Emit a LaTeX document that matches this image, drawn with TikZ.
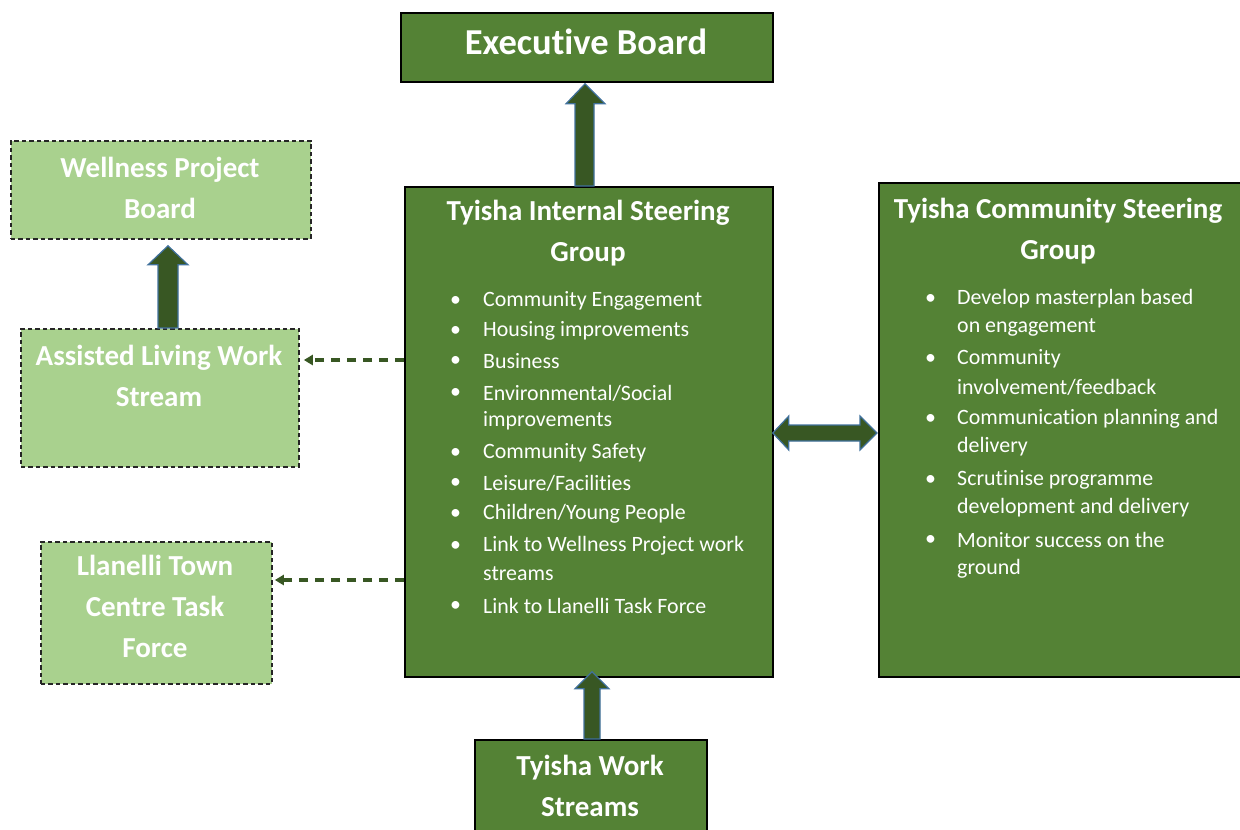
\documentclass[tikz,border=0pt]{standalone}
\usepackage{fontspec}
\setmainfont{Carlito}[RawFeature={-liga;-clig;-calt;-dlig}]
\usetikzlibrary{calc,arrows.meta}
\definecolor{dk}{HTML}{548235}
\definecolor{lt}{HTML}{A9D18E}
\definecolor{ar}{HTML}{385723}
\definecolor{ab}{HTML}{41719C}
\newcommand\nl{\kern0pt }
\begin{document}
\begin{tikzpicture}[x=1pt,y=-1pt,
  darkbox/.style={draw=black,line width=1.8pt,fill=dk,anchor=north west,inner sep=0pt},
  lightbox/.style={draw=black!85,line width=1.8pt,dash pattern=on 4.5pt off 3pt,fill=lt,anchor=north west,inner sep=0pt},
  ttl/.style={text=white,font=\bfseries\fontsize{29}{41}\selectfont,align=center,inner sep=0pt},
  bigttl/.style={text=white,font=\bfseries\fontsize{36.5}{41}\selectfont,align=center,inner sep=0pt},
  itm/.style={text=white,font=\fontsize{21.9}{28}\selectfont,anchor=west,inner sep=0pt},
  blk/.style={fill=ar,draw=ab,line width=1.2pt,line join=miter},
  dsh/.style={draw=ar,line width=3.2pt,dash pattern=on 9pt off 7pt,-{Triangle[length=9pt,width=10pt]}}
]
\useasboundingbox (0,0) rectangle (1240,830);
% boxes
\node[darkbox,minimum width=372pt,minimum height=69pt] (exec) at (400,12) {};
\node[lightbox,minimum width=300pt,minimum height=98pt] (well) at (10,140) {};
\node[lightbox,minimum width=278pt,minimum height=138pt] (assist) at (20,328) {};
\node[lightbox,minimum width=231pt,minimum height=142pt] (llan) at (40,541) {};
\node[darkbox,minimum width=368pt,minimum height=490pt] (int) at (404,186) {};
\node[darkbox,minimum width=364pt,minimum height=494pt] (com) at (878,182) {};
\node[darkbox,minimum width=232pt,minimum height=100pt] (work) at (474,739) {};
% titles
\node[bigttl] (exec-t) at (586,42) {Execut\nl ive Board};
\node[ttl] (well-t) at (160,188) {Wellness Project\\Board};
\node[ttl] (assist-t) at (159,376) {Assisted Living Work\\Stream};
\node[ttl] (llan-t) at (155,606) {Llanelli Town\\Centre Task\\Force};
\node[ttl] (int-t) at (588,233) {Tyisha Internal Steering\\Group};
\node[ttl] (com-t) at (1058,231) {Tyisha Community Steering\\Group};
\node[ttl] (work-t) at (590,786) {Tyisha Work\\Streams};
% internal list
\foreach \y/\t [count=\i] in {301/Community Engagement,331/Housing improvements,361/Business,393/Environmental\slash Social,453/Community Safety,483/Leisure\slash Facilit\nl ies,514/Children\slash Young People,546/Link to Wellness Project work,606/Link to Llanelli Task Force}{
  \node[itm] (ib\i) at (450,\y) {•};
  \node[itm] (it\i) at (483,\y) {\t};
}
\node[itm] (it4b) at (483,421) {improvements};
\node[itm] (it8b) at (483,574) {streams};
% community list
\foreach \y/\t [count=\i] in {299/Develop masterplan based,359/Community,419/Communicat\nl ion planning and,480/Scrut\nl inise programme,540/Monitor success on the}{
  \node[itm] (cb\i) at (925,\y) {•};
  \node[itm] (ct\i) at (957,\y) {\t};
}
\node[itm] (ct1b) at (957,327) {on engagement};
\node[itm] (ct2b) at (957,387) {involvement/feedback};
\node[itm] (ct3b) at (957,447) {delivery};
\node[itm] (ct4b) at (957,508) {development and delivery};
\node[itm] (ct5b) at (957,569) {ground};
% block arrows: int -> exec
\draw[blk] (575,0 |- int.north) -- ($(575,0 |- exec.south)+(0,21)$) -- ($(566,0 |- exec.south)+(0,21)$)
  -- ($(585,0 |- exec.south)+(0,1)$)
  -- ($(605,0 |- exec.south)+(0,21)$) -- ($(594,0 |- exec.south)+(0,21)$) -- (594,0 |- int.north) -- cycle;
% assist -> well
\draw[blk] (158,0 |- assist.north) -- ($(158,0 |- well.south)+(0,25)$) -- ($(148,0 |- well.south)+(0,25)$)
  -- ($(168,0 |- well.south)+(0,6)$)
  -- ($(188,0 |- well.south)+(0,25)$) -- ($(178,0 |- well.south)+(0,25)$) -- (178,0 |- assist.north) -- cycle;
% work -> int
\draw[blk] (584,0 |- work.north) -- ($(584,0 |- int.south)+(0,11)$) -- ($(575,0 |- int.south)+(0,11)$)
  -- ($(592,0 |- int.south)+(0,-6)$)
  -- ($(609,0 |- int.south)+(0,11)$) -- ($(600,0 |- int.south)+(0,11)$) -- (600,0 |- work.north) -- cycle;
% int <-> com
\draw[blk] ($(int.east |- 0,433)+(-1,0)$) -- ($(int.east |- 0,433)+(15,-17)$) -- ($(int.east |- 0,433)+(15,-8)$)
  -- ($(com.west |- 0,433)+(-18,-8)$) -- ($(com.west |- 0,433)+(-18,-17)$) -- ($(com.west |- 0,433)+(-1,0)$)
  -- ($(com.west |- 0,433)+(-18,17)$) -- ($(com.west |- 0,433)+(-18,8)$) -- ($(int.east |- 0,433)+(15,8)$)
  -- ($(int.east |- 0,433)+(15,17)$) -- cycle;
% dashed connectors
\draw[dsh] (int.west |- 0,360) -- ($(assist.east |- 0,360)+(4,0)$);
\draw[dsh] (int.west |- 0,580) -- ($(llan.east |- 0,580)+(2,0)$);
\end{tikzpicture}
\end{document}
